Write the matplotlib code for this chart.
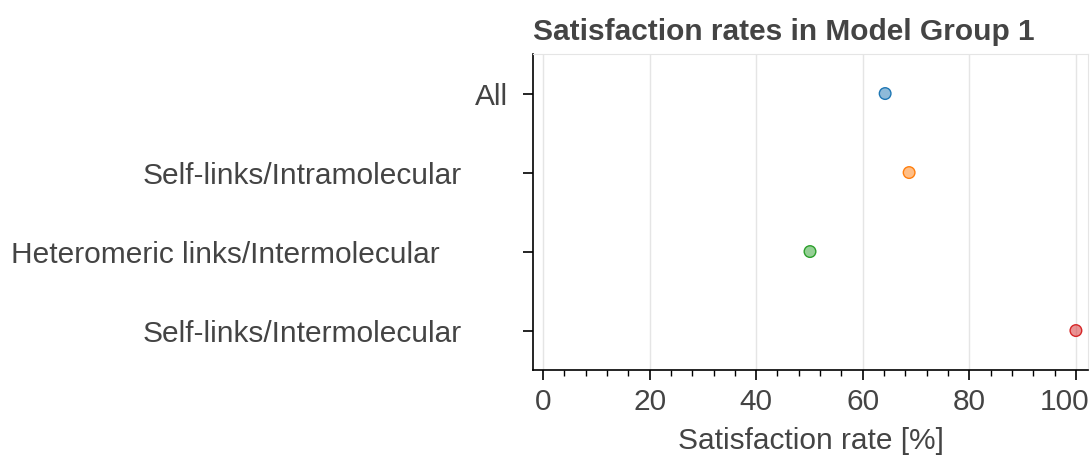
import matplotlib.pyplot as plt
import matplotlib.transforms as mtransforms
from matplotlib.ticker import MultipleLocator

plt.rcParams['font.family'] = ['Liberation Sans', 'DejaVu Sans']

categories = ["All", "Self-links/Intramolecular",
              "Heteromeric links/Intermolecular", "Self-links/Intermolecular"]
rates = [64.2, 68.7, 50.1, 100.0]
colors = ["#1f77b4", "#ff7f0e", "#2ca02c", "#d62728"]
xticks = [0, 20, 40, 60, 80, 100]
# bokeh-like staggered label offsets (points left of the axis)
label_pad = [18, 51, 67, 51]

text_color = "#444444"

fig = plt.figure(figsize=(10.92, 4.58), dpi=100)
ax = fig.add_axes([0.488, 0.192, 0.5085, 0.690])

ypos = list(range(len(categories)))
for y, r, c in zip(ypos, rates, colors):
    ax.scatter(r, y, s=70, color=c, alpha=0.5, edgecolors='none', zorder=3)
    ax.scatter(r, y, s=70, facecolors='none', edgecolors=c, linewidths=1.0, zorder=4)

ax.set_xlim(-1.9, 102.3)
ax.set_ylim(3.5, -0.5)

ax.set_xticks(xticks)
# last label is pulled inside the frame like bokeh does
ax.set_xticklabels([str(t) for t in xticks[:-1]] + [""])
ax.xaxis.set_minor_locator(MultipleLocator(4))
ax.set_yticks(ypos)
ax.set_yticklabels([])

ax.grid(axis='x', color='#e5e5e5', linewidth=1)
ax.set_axisbelow(True)

for s in ['top', 'right']:
    ax.spines[s].set_color('#e5e5e5')
for s in ['left', 'bottom']:
    ax.spines[s].set_color('black')
    ax.spines[s].set_linewidth(1.2)

ax.tick_params(axis='x', which='major', length=7, width=1.2, labelsize=21.5,
               labelcolor=text_color, pad=6)
ax.tick_params(axis='x', which='minor', length=4, width=1)
ax.tick_params(axis='y', which='major', length=7, width=1.2, direction='out')
# small inner stub of the y ticks
ax.tick_params(axis='y', which='minor', length=2, width=1.2, direction='in')
ax.set_yticks(ypos, minor=True)

xtrans = mtransforms.blended_transform_factory(ax.transData, ax.transAxes)
xoff = mtransforms.offset_copy(xtrans, fig=fig, x=-8, y=-13, units='points')
ax.text(xticks[-1], 0, str(xticks[-1]), transform=xoff, ha='center', va='top',
        fontsize=21.5, color=text_color)

trans = mtransforms.blended_transform_factory(ax.transAxes, ax.transData)
for y, lab, pad in zip(ypos, categories, label_pad):
    off = mtransforms.offset_copy(trans, fig=fig, x=-pad, y=-2.5, units='points')
    ax.text(0, y, lab, transform=off, ha='right', va='center',
            fontsize=21.5, color=text_color)

ax.set_xlabel("Satisfaction rate [%]", fontsize=21.5, color=text_color, labelpad=8)
ax.set_title("Satisfaction rates in Model Group 1", loc='left', fontsize=21.5,
             fontweight='bold', color=text_color, pad=10)

fig.savefig("out.png", dpi=100)
